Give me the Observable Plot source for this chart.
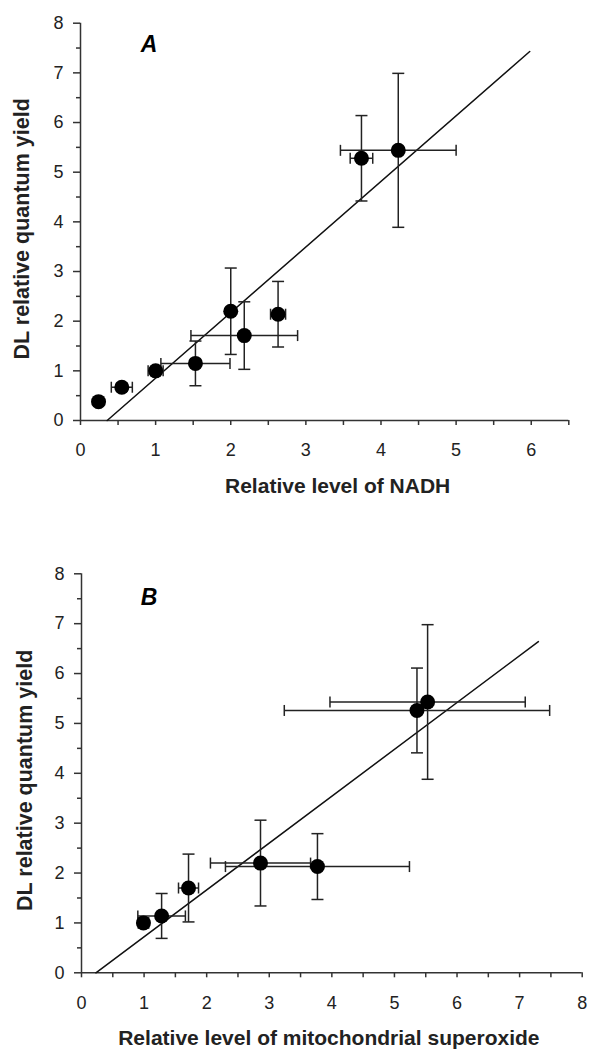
<!DOCTYPE html>
<html><head><meta charset="utf-8">
<script src="https://cdn.jsdelivr.net/npm/d3@7"></script>
<script src="https://cdn.jsdelivr.net/npm/@observablehq/plot@0.6"></script>
<style>
html,body{margin:0;padding:0;background:#fff;}
#chart{width:590px;}
#chart svg{display:block;}
#chart svg g[aria-label$="tick label"]{font-size:18px;fill:#222;}
</style></head><body><div id="chart"></div>
<script>
// Panel A: DL relative quantum yield vs relative level of NADH
const nadhX    = [0.24, 0.55, 1.00, 1.53, 2.00, 2.18, 2.63, 3.74, 4.23];
const nadhY    = [0.38, 0.67, 1.00, 1.15, 2.20, 1.71, 2.14, 5.28, 5.44];
const nadhXErr = [0,    0.14, 0.10, 0.46, 0,    0.71, 0.10, 0.15, 0.77];
const nadhYErr = [0,    0.08, 0.05, 0.45, 0.87, 0.68, 0.66, 0.86, 1.55];
const fitAx = [0.355, 5.98];
const fitAy = [0, 7.43];

// Panel B: DL relative quantum yield vs relative level of mitochondrial superoxide
const soxX    = [0.99, 1.28, 1.71, 2.86, 3.77, 5.36, 5.53];
const soxY    = [1.00, 1.14, 1.70, 2.20, 2.13, 5.26, 5.43];
const soxXErr = [0.05, 0.38, 0.16, 0.80, 1.47, 2.12, 1.56];
const soxYErr = [0.10, 0.45, 0.68, 0.86, 0.66, 0.85, 1.55];
const fitBx = [0.23, 7.30];
const fitBy = [0, 6.64];

const yTitle = "DL relative quantum yield";
const xTitleA = "Relative level of NADH";
const xTitleB = "Relative level of mitochondrial superoxide";

const ink = "#222";
const hCap = {draw(ctx, size){const r = Math.sqrt(size/Math.PI); ctx.moveTo(-r,0); ctx.lineTo(r,0);}};
const vCap = {draw(ctx, size){const r = Math.sqrt(size/Math.PI); ctx.moveTo(0,-r); ctx.lineTo(0,r);}};

function panel(o) {
  const pts = o.xs.map((x,i) => ({x, y: o.ys[i], xe: o.xe[i], ye: o.ye[i]}));
  const xbars = pts.filter(d => d.xe > 0);
  const ybars = pts.filter(d => d.ye > 0);
  const fit = o.fx.map((x,i) => ({x, y: o.fy[i]}));
  const xMajor = d3.range(0, o.xMax + 0.001, 1);
  const xMinor = d3.range(0, o.xMax + 0.001, 0.5);
  const yMajor = d3.range(0, 8.001, 1);
  const yMinor = d3.range(0.5, 8, 1);
  return Plot.plot({
    width: 590, height: o.height,
    marginLeft: o.ml, marginRight: o.mr, marginTop: o.mt, marginBottom: o.mb,
    style: {fontFamily: "'Liberation Sans', Arial, sans-serif", fontSize: "18px", color: ink, background: "#fff", overflow: "visible"},
    x: {domain: [0, o.xMax]},
    y: {domain: [0, 8]},
    marks: [
      Plot.axisX({ticks: xMinor, tickSize: 5, tickFormat: () => "", label: null, stroke: "#333", strokeWidth: 1.5}),
      Plot.axisX({ticks: xMajor, tickSize: 0, tickPadding: 23, tickFormat: d => String(d), label: null, fontSize: 18}),
      Plot.axisY({ticks: yMajor, tickSize: 7, tickPadding: 10, tickFormat: d => String(d), label: null, stroke: "#333", strokeWidth: 1.5, fontSize: 18}),
      Plot.axisY({ticks: yMinor, tickSize: 4, tickFormat: () => "", label: null, stroke: "#333", strokeWidth: 1.5}),
      Plot.ruleY([0], {stroke: "#333", strokeWidth: 1.5}),
      Plot.ruleX([0], {stroke: "#333", strokeWidth: 1.5}),
      Plot.line(fit, {x: "x", y: "y", stroke: "#111", strokeWidth: 1.5}),
      Plot.link(ybars, {x1: "x", x2: "x", y1: d => d.y - d.ye, y2: d => d.y + d.ye, stroke: ink, strokeWidth: 1.5}),
      Plot.dot(ybars, {x: "x", y: d => d.y - d.ye, symbol: hCap, r: 6, stroke: ink, fill: "none", strokeWidth: 1.5}),
      Plot.dot(ybars, {x: "x", y: d => d.y + d.ye, symbol: hCap, r: 6, stroke: ink, fill: "none", strokeWidth: 1.5}),
      Plot.link(xbars, {y1: "y", y2: "y", x1: d => d.x - d.xe, x2: d => d.x + d.xe, stroke: ink, strokeWidth: 1.5}),
      Plot.dot(xbars, {y: "y", x: d => d.x - d.xe, symbol: vCap, r: 5.5, stroke: ink, fill: "none", strokeWidth: 1.5}),
      Plot.dot(xbars, {y: "y", x: d => d.x + d.xe, symbol: vCap, r: 5.5, stroke: ink, fill: "none", strokeWidth: 1.5}),
      Plot.dot(pts, {x: "x", y: "y", r: 7.5, fill: "#000", stroke: "none"}),
      Plot.text([o.xTitle], {frameAnchor: "bottom", textAnchor: "middle", lineAnchor: "middle", dx: o.xTitleDx, dy: o.xTitleDy, fontWeight: "bold", fontSize: 21, fill: ink}),
      Plot.text([yTitle], {frameAnchor: "left", textAnchor: "middle", lineAnchor: "middle", dx: o.yTitleDx, dy: o.yTitleDy, rotate: -90, fontWeight: "bold", fontSize: 21.5, fill: ink}),
      Plot.text([o.letter], {frameAnchor: "top-left", textAnchor: "middle", lineAnchor: "middle", dx: o.letterDx, dy: o.letterDy, fontWeight: "bold", fontStyle: "italic", fontSize: 23, fill: "#000"})
    ]
  });
}

const chart = document.getElementById("chart");
chart.append(panel({
  xs: nadhX, ys: nadhY, xe: nadhXErr, ye: nadhYErr, fx: fitAx, fy: fitAy,
  xMax: 6.5, xTitle: xTitleA, letter: "A",
  height: 520, ml: 80, mr: 21.7, mt: 22.7, mb: 100,
  xTitleDx: 13, xTitleDy: 66, yTitleDx: -58, yTitleDy: 7, letterDx: 68.5, letterDy: 21.6
}));
chart.append(panel({
  xs: soxX, ys: soxY, xe: soxXErr, ye: soxYErr, fx: fitBx, fy: fitBy,
  xMax: 8, xTitle: xTitleB, letter: "B",
  height: 533, ml: 81, mr: 8.3, mt: 53.3, mb: 80.7,
  xTitleDx: -3, xTitleDy: 65, yTitleDx: -56, yTitleDy: 7, letterDx: 67.5, letterDy: 24
}));
</script>
</body></html>
